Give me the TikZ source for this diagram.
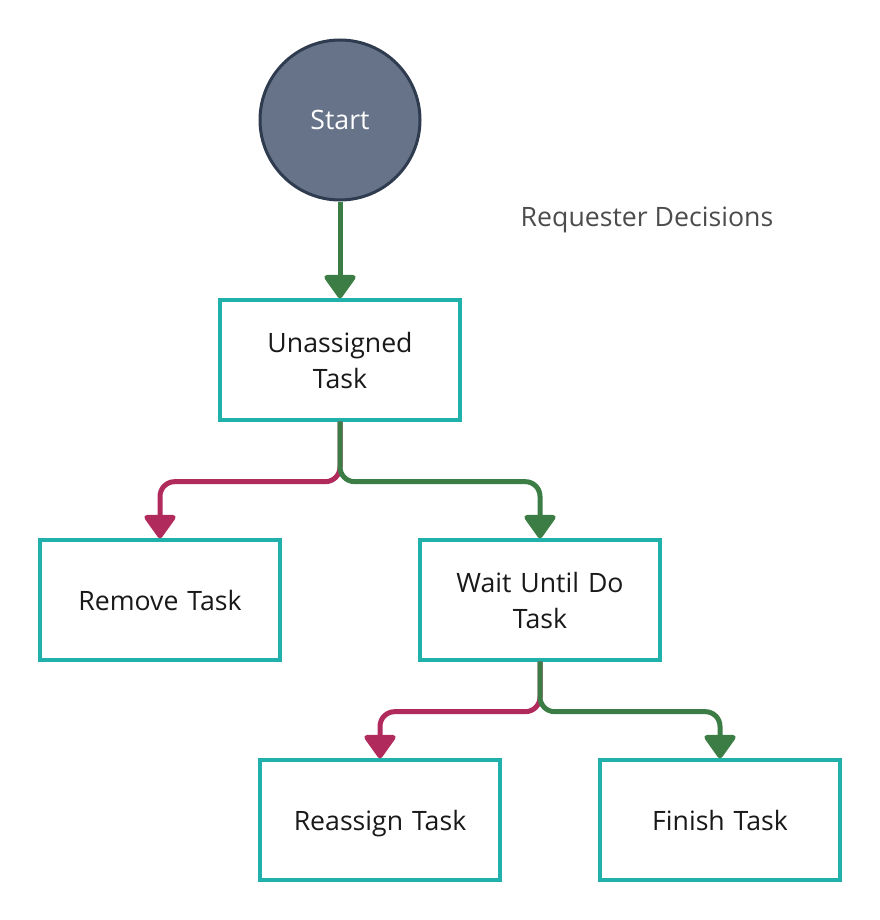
\documentclass[tikz,border=0pt]{standalone}
\usepackage{fontspec}
\setmainfont{Open Sans}
\usetikzlibrary{arrows.meta}
\definecolor{startfill}{HTML}{667389}
\definecolor{startline}{HTML}{2F3B4F}
\definecolor{boxline}{HTML}{20B2AA}
\definecolor{yesgreen}{HTML}{3B7D45}
\definecolor{nored}{HTML}{B02A5C}
\newcommand\tstrut{\rule[-6pt]{0pt}{27pt}}
\begin{document}
\begin{tikzpicture}[x=0.75pt,y=-0.75pt,font=\fontsize{20}{27}\selectfont]
	\tikzstyle{task}=[rectangle,draw=boxline,line width=2.5pt,fill=white,text=black!90,minimum width=180pt,minimum height=90pt,align=center,text width=160pt] % task box
	\tikzstyle{go}=[draw=yesgreen,line width=3.75pt,rounded corners=11pt,-{Triangle[width=26pt,length=19pt,round]}] % green = continue
	\tikzstyle{stop}=[go,draw=nored] % red = drop
	\useasboundingbox (0,0) rectangle (880,920);
	\node(start)[circle,draw=startline,line width=2.25pt,fill=startfill,text=white,minimum size=120pt] at (340,120) {Start};
	\node(title)[text=black!70] at (647,220) {Requester Decisions};
	\node(unassigned)[task] at (340,360) {\tstrut Unassigned\\\tstrut Task};
	\node(remove)[task] at (160,600) {\tstrut Remove Task};
	\node(wait)[task] at (540,600) {\tstrut Wait Until Do\\\tstrut Task};
	\node(reassign)[task] at (380,820) {\tstrut Reassign Task};
	\node(finish)[task] at (720,820) {\tstrut Finish Task};
	\draw[go] (start) -- (unassigned);
	\draw[stop] (unassigned.south) -- ++(0,60) -| (remove.north);
	\draw[go] (unassigned.south) -- ++(0,60) -| (wait.north);
	\draw[stop] (wait.south) -- ++(0,50) -| (reassign.north);
	\draw[go] (wait.south) -- ++(0,50) -| (finish.north);
\end{tikzpicture}
\end{document}
